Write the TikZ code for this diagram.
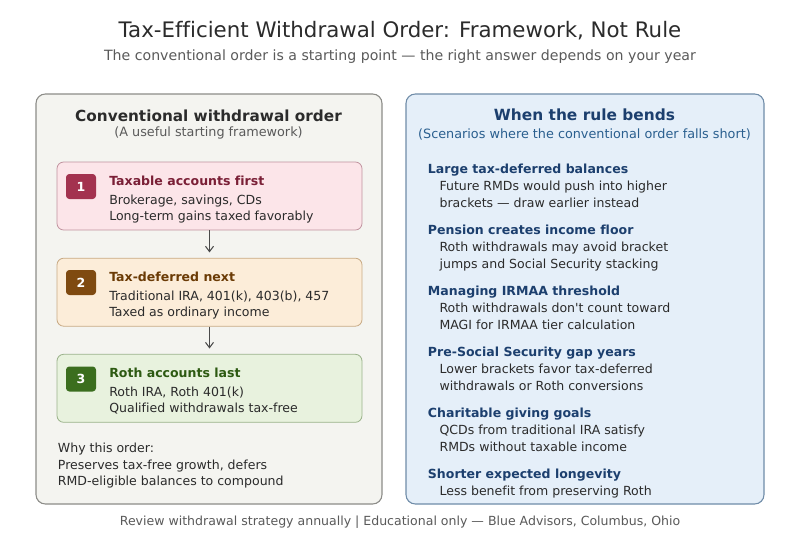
\documentclass[tikz,border=0pt]{standalone}
\usepackage{fontspec}
\setmainfont{DejaVu Sans}[Ligatures=NoCommon]
\usetikzlibrary{arrows.meta}

\definecolor{inkdark}{HTML}{2B2B2B}
\definecolor{inkgray}{HTML}{5A5A5A}
\definecolor{leftfill}{HTML}{F4F4F0}
\definecolor{leftdraw}{HTML}{8C8C88}
\definecolor{rightfill}{HTML}{E5EFF9}
\definecolor{rightdraw}{HTML}{6F8CA8}
\definecolor{navy}{HTML}{1C3F6E}
\definecolor{steelblue}{HTML}{2A5F8F}
\definecolor{pinkfill}{HTML}{FCE5E9}
\definecolor{pinkdraw}{HTML}{C0929E}
\definecolor{crimson}{HTML}{A3324F}
\definecolor{crimsontext}{HTML}{7A1F36}
\definecolor{peachfill}{HTML}{FCEDD9}
\definecolor{peachdraw}{HTML}{C8AA84}
\definecolor{brownbadge}{HTML}{7F4A10}
\definecolor{browntext}{HTML}{6B3B05}
\definecolor{greenfill}{HTML}{E8F2DE}
\definecolor{greendraw}{HTML}{9AB28A}
\definecolor{greenbadge}{HTML}{3B6E1E}
\definecolor{greentext}{HTML}{2D5A12}
\definecolor{arrowgray}{HTML}{4A4A4A}

\tikzset{
  panel/.style={draw, rounded corners=7pt, line width=0.8pt, minimum height=307.5pt, inner sep=0pt},
  card/.style={draw, rounded corners=5pt, line width=0.6pt, minimum width=228.75pt, minimum height=51pt, inner sep=0pt},
  badge/.style={rounded corners=2.5pt, text=white, minimum width=22.5pt, minimum height=18.75pt, inner sep=0pt, font=\bfseries\fontsize{9.4}{11}\selectfont},
  txt/.style={anchor=base west, inner sep=0pt, text=inkdark, font=\fontsize{9.4}{11}\selectfont},
  cardhead/.style={anchor=base west, inner sep=0pt, font=\bfseries\fontsize{9.4}{11}\selectfont},
  bendhead/.style={anchor=base west, inner sep=0pt, text=navy, font=\bfseries\fontsize{9.4}{11}\selectfont},
  flowarrow/.style={draw=arrowgray, line width=0.8pt, -{Straight Barb[length=4pt, width=6pt]}, shorten >=4pt}
}

\begin{document}
\begin{tikzpicture}[x=0.75pt, y=-0.75pt]
\useasboundingbox[fill=white] (0,0) rectangle (800,540);

% title
\node[anchor=base, inner sep=0pt, text=inkdark, font=\fontsize{16}{19}\selectfont] (title) at (400,37.3)
  {Tax-Efficient Withdrawal Order: Framework, Not Rule};
\node[anchor=base, inner sep=0pt, text=inkgray, font=\fontsize{10.6}{13}\selectfont] (subtitle) at (400,60)
  {The conventional order is a starting point — the right answer depends on your year};

% left panel
\node[panel, fill=leftfill, draw=leftdraw, minimum width=259.5pt] (leftpanel) at (209,299) {};
\node[anchor=base, inner sep=0pt, text=inkdark, font=\bfseries\fontsize{11.45}{14}\selectfont] (lefthead) at (208.5,121.7)
  {Conventional withdrawal order};
\node[anchor=base, inner sep=0pt, text=inkgray, font=\fontsize{9.6}{12}\selectfont] (leftsub) at (208.5,136.7)
  {(A useful starting framework)};

% step 1
\node[card, fill=pinkfill, draw=pinkdraw] (taxable) at (209.5,196) {};
\node[badge, fill=crimson] (badge1) at (81,186.5) {1};
\node[cardhead, text=crimsontext] (taxable-head) at (109,185.7) {Taxable accounts first};
\node[txt] (taxable-l1) at (109,204) {Brokerage, savings, CDs};
\node[txt] (taxable-l2) at (109,220) {Long-term gains taxed favorably};

% step 2
\node[card, fill=peachfill, draw=peachdraw] (deferred) at (209.5,292.2) {};
\node[badge, fill=brownbadge] (badge2) at (81,282.5) {2};
\node[cardhead, text=browntext] (deferred-head) at (109,281.7) {Tax-deferred next};
\node[txt] (deferred-l1) at (109,300.7) {Traditional IRA, 401(k), 403(b), 457};
\node[txt] (deferred-l2) at (109,316.7) {Taxed as ordinary income};

% step 3
\node[card, fill=greenfill, draw=greendraw] (roth) at (209.5,388.3) {};
\node[badge, fill=greenbadge] (badge3) at (81,379) {3};
\node[cardhead, text=greentext] (roth-head) at (109,377.7) {Roth accounts last};
\node[txt] (roth-l1) at (109,396.7) {Roth IRA, Roth 401(k)};
\node[txt] (roth-l2) at (109,412.7) {Qualified withdrawals tax-free};

\draw[flowarrow] (taxable.south) -- (deferred.north);
\draw[flowarrow] (deferred.south) -- (roth.north);

% why
\node[txt] (why-l1) at (57.7,452.3) {Why this order:};
\node[txt] (why-l2) at (57.7,469.3) {Preserves tax-free growth, defers};
\node[txt] (why-l3) at (57.7,485.5) {RMD-eligible balances to compound};

% right panel
\node[panel, fill=rightfill, draw=rightdraw, minimum width=268.5pt] (rightpanel) at (585,299) {};
\node[anchor=base, inner sep=0pt, text=navy, font=\bfseries\fontsize{11.55}{14}\selectfont] (righthead) at (584.5,120.7)
  {When the rule bends};
\node[anchor=base, inner sep=0pt, text=steelblue, font=\fontsize{9.6}{12}\selectfont] (rightsub) at (584.5,138.3)
  {(Scenarios where the conventional order falls short)};

\node[bendhead] (large-head) at (427.7,173.3) {Large tax-deferred balances};
\node[txt] (large-l1) at (439.3,190.7) {Future RMDs would push into higher};
\node[txt] (large-l2) at (439.3,207.3) {brackets — draw earlier instead};

\node[bendhead] (pension-head) at (427.7,234.3) {Pension creates income floor};
\node[txt] (pension-l1) at (439.3,251.7) {Roth withdrawals may avoid bracket};
\node[txt] (pension-l2) at (439.3,268.3) {jumps and Social Security stacking};

\node[bendhead] (irmaa-head) at (427.7,295.3) {Managing IRMAA threshold};
\node[txt] (irmaa-l1) at (439.3,312.3) {Roth withdrawals don\textquotesingle t count toward};
\node[txt] (irmaa-l2) at (439.3,329) {MAGI for IRMAA tier calculation};

\node[bendhead] (gap-head) at (427.7,356) {Pre-Social Security gap years};
\node[txt] (gap-l1) at (439.3,373.3) {Lower brackets favor tax-deferred};
\node[txt] (gap-l2) at (439.3,390) {withdrawals or Roth conversions};

\node[bendhead] (charity-head) at (427.7,417.3) {Charitable giving goals};
\node[txt] (charity-l1) at (439.3,434.3) {QCDs from traditional IRA satisfy};
\node[txt] (charity-l2) at (439.3,451) {RMDs without taxable income};

\node[bendhead] (longevity-head) at (427.7,478.3) {Shorter expected longevity};
\node[txt] (longevity-l1) at (439.3,495.7) {Less benefit from preserving Roth};

% footer
\node[anchor=base, inner sep=0pt, text=inkgray, font=\fontsize{9.4}{11}\selectfont] (footer) at (400,525)
  {Review withdrawal strategy annually | Educational only — Blue Advisors, Columbus, Ohio};
\end{tikzpicture}
\end{document}
